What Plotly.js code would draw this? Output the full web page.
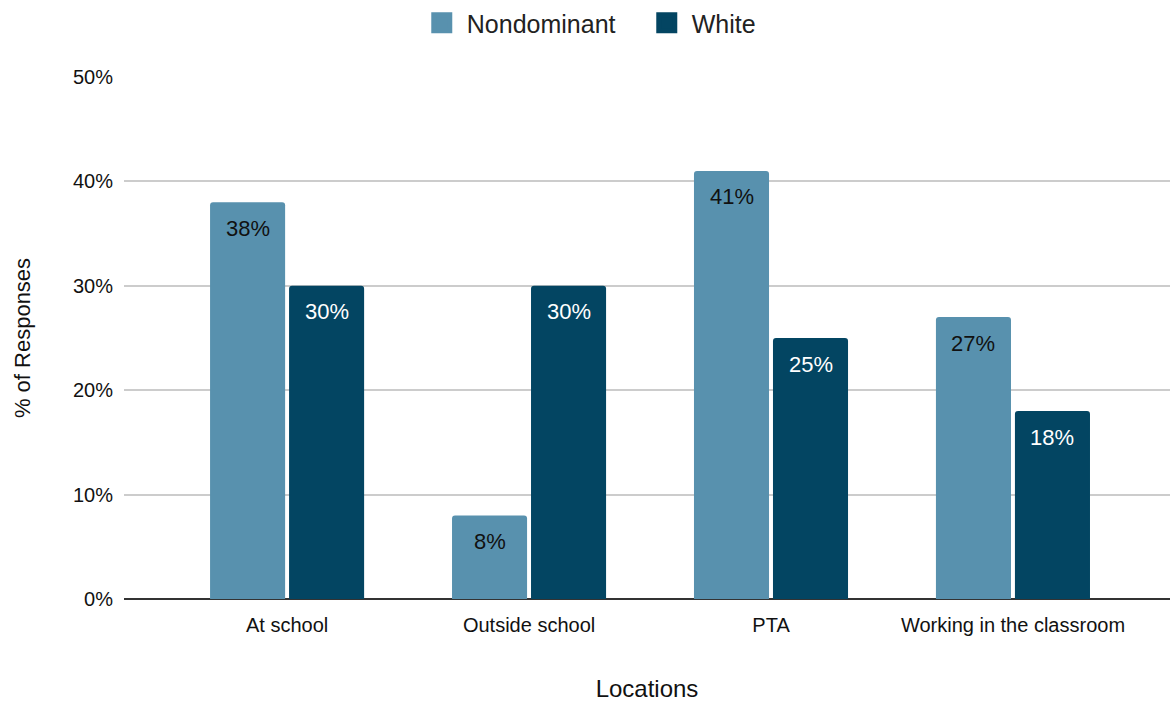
<!DOCTYPE html>
<html><head><meta charset="utf-8">
<script src="https://cdn.plot.ly/plotly-3.0.1.min.js"></script>
<style>html,body{margin:0;padding:0;background:#fff}#chart{width:1170px;height:702px}</style>
</head><body><div id="chart"></div>
<script>
const categories = ["At school", "Outside school", "PTA", "Working in the classroom"];
const nondominant = [0.38, 0.08, 0.41, 0.27];
const white = [0.30, 0.30, 0.25, 0.18];
const seriesNames = ["Nondominant", "White"];
const yTicks = [0, 0.1, 0.2, 0.3, 0.4, 0.5];

const c1 = "#5891ae", c2 = "#034562";
const FONT = "Liberation Sans, Arial, sans-serif";
const fmt = v => Math.round(v * 100) + "%";

const traces = [
  {type: "bar", name: seriesNames[0], x: categories, y: nondominant, marker: {color: c1}, hoverinfo: "skip", showlegend: false},
  {type: "bar", name: seriesNames[1], x: categories, y: white, marker: {color: c2}, hoverinfo: "skip", showlegend: false},
  {type: "scatter", mode: "markers", name: seriesNames[0], x: [null], y: [null],
    marker: {color: c1, symbol: "square", size: 24, line: {color: c1, width: 5}}},
  {type: "scatter", mode: "markers", name: seriesNames[1], x: [null], y: [null],
    marker: {color: c2, symbol: "square", size: 24, line: {color: c2, width: 5}}}
];

const annotations = [];
categories.forEach((c, i) => {
  annotations.push({x: c, y: nondominant[i], xref: "x", yref: "y", text: fmt(nondominant[i]), showarrow: false,
    xshift: -39.5, yshift: -26, yanchor: "middle", font: {family: FONT, size: 22, color: "#111"}});
  annotations.push({x: c, y: white[i], xref: "x", yref: "y", text: fmt(white[i]), showarrow: false,
    xshift: 39.5, yshift: -26, yanchor: "middle", font: {family: FONT, size: 22, color: "#fff"}});
});

const layout = {
  width: 1170, height: 702,
  margin: {l: 124, r: 0, t: 77, b: 103},
  paper_bgcolor: "#fff", plot_bgcolor: "#fff",
  barmode: "group", bargap: 0.347, bargroupgap: 0.05, barcornerradius: 3,
  showlegend: true,
  legend: {orientation: "h", x: 0.495, xanchor: "center", y: 1, yref: "container", yanchor: "top",
    font: {family: FONT, size: 25, color: "#222"}, itemwidth: 40, itemsizing: "trace", entrywidth: 170},
  xaxis: {range: [-0.674, 3.649], showgrid: false, zeroline: false, showline: false, ticks: "",
    ticklabelstandoff: 12,
    tickfont: {family: FONT, size: 20, color: "#111"},
    title: {text: "Locations", font: {family: FONT, size: 24, color: "#111"}, standoff: 46}},
  yaxis: {range: [0, 0.5], tickvals: yTicks, tickformat: ".0%", showgrid: true, gridcolor: "#cccccc", gridwidth: 2,
    zeroline: true, zerolinecolor: "#333333", zerolinewidth: 2, ticks: "", ticklabelstandoff: 10,
    tickfont: {family: FONT, size: 20, color: "#111"},
    title: {text: "% of Responses", font: {family: FONT, size: 22, color: "#111"}, standoff: 36}},
  annotations: annotations
};

Plotly.newPlot("chart", traces, layout, {displayModeBar: false, staticPlot: true});
</script></body></html>
